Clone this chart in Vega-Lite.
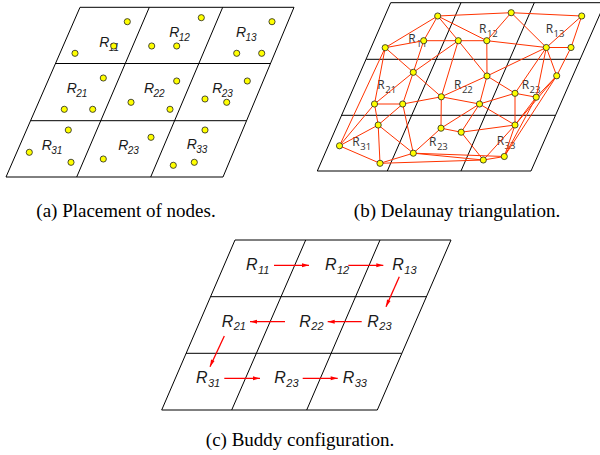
{
  "$schema": "https://vega.github.io/schema/vega-lite/v6.json",
  "width": 600,
  "height": 455,
  "autosize": {"type": "none"},
  "padding": 0,
  "background": "white",
  "config": {"view": {"stroke": null}},
  "datasets": {
    "grid": [
      {"x": 80, "y": 7.3, "x2": 294, "y2": 7.3},
      {"x": 6, "y": 177, "x2": 223, "y2": 177},
      {"x": 55.3, "y": 63.5, "x2": 270.3, "y2": 63.5},
      {"x": 30.8, "y": 120.7, "x2": 246.4, "y2": 120.7},
      {"x": 80, "y": 7.3, "x2": 6, "y2": 177},
      {"x": 149.3, "y": 7.3, "x2": 76.7, "y2": 177},
      {"x": 222.7, "y": 7.3, "x2": 150.7, "y2": 177},
      {"x": 294, "y": 7.3, "x2": 223, "y2": 177},
      {"x": 390.7, "y": 2.7, "x2": 605, "y2": 2.7},
      {"x": 317.3, "y": 171, "x2": 531, "y2": 171},
      {"x": 366.3, "y": 59.3, "x2": 580, "y2": 59.3},
      {"x": 341, "y": 115.3, "x2": 555, "y2": 115.3},
      {"x": 390.7, "y": 2.7, "x2": 317.3, "y2": 171},
      {"x": 461, "y": 2.7, "x2": 387.3, "y2": 171},
      {"x": 534.3, "y": 2.7, "x2": 461, "y2": 171},
      {"x": 605, "y": 2.7, "x2": 531, "y2": 171},
      {"x": 235, "y": 240, "x2": 451, "y2": 240},
      {"x": 161.7, "y": 410, "x2": 377.3, "y2": 410},
      {"x": 210.5, "y": 296.7, "x2": 426.7, "y2": 296.7},
      {"x": 186, "y": 353.3, "x2": 401.7, "y2": 353.3},
      {"x": 235, "y": 240, "x2": 161.7, "y2": 410},
      {"x": 305.7, "y": 240, "x2": 231.7, "y2": 410},
      {"x": 380, "y": 240, "x2": 306.7, "y2": 410},
      {"x": 451, "y": 240, "x2": 377.3, "y2": 410}
    ],
    "anodes": [
      {"x": 127.3, "y": 21.7}, {"x": 75, "y": 53.3}, {"x": 113.7, "y": 46},
      {"x": 201.3, "y": 17.7}, {"x": 151.7, "y": 46}, {"x": 176.7, "y": 46},
      {"x": 272, "y": 21.7}, {"x": 236.7, "y": 53.3}, {"x": 261.7, "y": 53.3},
      {"x": 103.3, "y": 78}, {"x": 64.3, "y": 109.3}, {"x": 92.7, "y": 109.3},
      {"x": 176.7, "y": 81}, {"x": 131, "y": 102.3}, {"x": 170, "y": 109.3},
      {"x": 247.3, "y": 81}, {"x": 205, "y": 99}, {"x": 226.7, "y": 102.3},
      {"x": 68.3, "y": 130}, {"x": 29.3, "y": 152.3}, {"x": 71, "y": 162.3},
      {"x": 151, "y": 137.3}, {"x": 103.3, "y": 159},
      {"x": 205, "y": 130}, {"x": 173.3, "y": 165.3}, {"x": 194.3, "y": 162.3}
    ],
    "bnodes": [
      {"id": "A", "x": 437.7, "y": 16}, {"id": "B", "x": 511.2, "y": 12.7},
      {"id": "C", "x": 581.7, "y": 16}, {"id": "D", "x": 385.2, "y": 47.7},
      {"id": "E", "x": 423.7, "y": 40.7}, {"id": "F", "x": 458.3, "y": 40.7},
      {"id": "G", "x": 486.8, "y": 40.7}, {"id": "H", "x": 546.3, "y": 47.5},
      {"id": "I", "x": 571, "y": 47.5}, {"id": "J", "x": 413.3, "y": 72.3},
      {"id": "K", "x": 487, "y": 76}, {"id": "L", "x": 556.7, "y": 75.8},
      {"id": "M", "x": 515, "y": 93.3}, {"id": "N", "x": 536.2, "y": 97.2},
      {"id": "O", "x": 374.5, "y": 104}, {"id": "P", "x": 402.7, "y": 104},
      {"id": "Q", "x": 441.3, "y": 96.8}, {"id": "R", "x": 479.5, "y": 104},
      {"id": "S", "x": 378.2, "y": 125}, {"id": "T", "x": 441, "y": 128.2},
      {"id": "U", "x": 461.2, "y": 132.2}, {"id": "V", "x": 515, "y": 125},
      {"id": "W", "x": 339.5, "y": 145.8}, {"id": "X", "x": 413.3, "y": 153.2},
      {"id": "Y", "x": 504.3, "y": 156.5}, {"id": "Z", "x": 483.3, "y": 160},
      {"id": "AA", "x": 380, "y": 163.3}
    ],
    "edges": [
      {"a": "A", "b": "B"}, {"a": "B", "b": "C"}, {"a": "A", "b": "D"}, {"a": "A", "b": "E"},
      {"a": "A", "b": "F"}, {"a": "A", "b": "G"}, {"a": "B", "b": "G"}, {"a": "B", "b": "H"},
      {"a": "C", "b": "H"}, {"a": "C", "b": "I"}, {"a": "D", "b": "E"}, {"a": "E", "b": "F"},
      {"a": "F", "b": "G"}, {"a": "G", "b": "H"}, {"a": "H", "b": "I"}, {"a": "D", "b": "J"},
      {"a": "E", "b": "J"}, {"a": "F", "b": "J"}, {"a": "F", "b": "Q"}, {"a": "F", "b": "K"},
      {"a": "G", "b": "K"}, {"a": "H", "b": "K"}, {"a": "H", "b": "M"}, {"a": "H", "b": "N"},
      {"a": "H", "b": "L"}, {"a": "I", "b": "L"}, {"a": "D", "b": "O"}, {"a": "D", "b": "W"},
      {"a": "J", "b": "O"}, {"a": "J", "b": "P"}, {"a": "J", "b": "Q"}, {"a": "K", "b": "Q"},
      {"a": "K", "b": "R"}, {"a": "K", "b": "M"}, {"a": "M", "b": "N"}, {"a": "L", "b": "N"},
      {"a": "O", "b": "P"}, {"a": "P", "b": "Q"}, {"a": "Q", "b": "R"}, {"a": "R", "b": "M"},
      {"a": "O", "b": "S"}, {"a": "O", "b": "W"}, {"a": "S", "b": "W"}, {"a": "S", "b": "P"},
      {"a": "P", "b": "X"}, {"a": "S", "b": "X"}, {"a": "S", "b": "AA"}, {"a": "W", "b": "AA"},
      {"a": "AA", "b": "X"}, {"a": "Q", "b": "T"}, {"a": "T", "b": "R"}, {"a": "T", "b": "U"},
      {"a": "T", "b": "X"}, {"a": "R", "b": "U"}, {"a": "R", "b": "V"}, {"a": "M", "b": "V"},
      {"a": "U", "b": "V"}, {"a": "U", "b": "Z"}, {"a": "N", "b": "V"}, {"a": "N", "b": "Y"},
      {"a": "L", "b": "V"}, {"a": "L", "b": "Y"}, {"a": "V", "b": "Y"}, {"a": "V", "b": "Z"},
      {"a": "Y", "b": "Z"}, {"a": "X", "b": "Z"}, {"a": "X", "b": "Y"}, {"a": "AA", "b": "Z"}
    ],
    "labels": [
      {"panel": "a", "x": 99.3, "y": 43.3, "main": "R", "sub": "11"},
      {"panel": "a", "x": 169.3, "y": 33.3, "main": "R", "sub": "12"},
      {"panel": "a", "x": 236, "y": 33.3, "main": "R", "sub": "13"},
      {"panel": "a", "x": 66.7, "y": 89.3, "main": "R", "sub": "21"},
      {"panel": "a", "x": 144, "y": 89.3, "main": "R", "sub": "22"},
      {"panel": "a", "x": 212.3, "y": 89, "main": "R", "sub": "23"},
      {"panel": "a", "x": 41.7, "y": 145.7, "main": "R", "sub": "31"},
      {"panel": "a", "x": 118.3, "y": 145.7, "main": "R", "sub": "23"},
      {"panel": "a", "x": 186.7, "y": 145, "main": "R", "sub": "33"},
      {"panel": "b", "x": 408.3, "y": 39, "main": "R", "sub": "11"},
      {"panel": "b", "x": 479, "y": 29.2, "main": "R", "sub": "12"},
      {"panel": "b", "x": 545.7, "y": 29.2, "main": "R", "sub": "13"},
      {"panel": "b", "x": 377.3, "y": 85, "main": "R", "sub": "21"},
      {"panel": "b", "x": 454, "y": 85, "main": "R", "sub": "22"},
      {"panel": "b", "x": 521.7, "y": 85, "main": "R", "sub": "23"},
      {"panel": "b", "x": 352.3, "y": 141.7, "main": "R", "sub": "31"},
      {"panel": "b", "x": 429, "y": 141.7, "main": "R", "sub": "23"},
      {"panel": "b", "x": 496.7, "y": 141, "main": "R", "sub": "33"},
      {"panel": "c", "x": 246, "y": 265.3, "main": "R", "sub": "11"},
      {"panel": "c", "x": 325, "y": 265.3, "main": "R", "sub": "12"},
      {"panel": "c", "x": 392.3, "y": 265.3, "main": "R", "sub": "13"},
      {"panel": "c", "x": 221.7, "y": 321.7, "main": "R", "sub": "21"},
      {"panel": "c", "x": 299.3, "y": 321.7, "main": "R", "sub": "22"},
      {"panel": "c", "x": 367.3, "y": 321.7, "main": "R", "sub": "23"},
      {"panel": "c", "x": 196, "y": 378.3, "main": "R", "sub": "31"},
      {"panel": "c", "x": 274.3, "y": 378.3, "main": "R", "sub": "23"},
      {"panel": "c", "x": 342.7, "y": 378.3, "main": "R", "sub": "33"}
    ],
    "arrows": [
      {"x": 274, "y": 265.3, "x2": 309, "y2": 265.3, "dir": "right"},
      {"x": 348.3, "y": 265.3, "x2": 383.3, "y2": 265.3, "dir": "right"},
      {"x": 399.3, "y": 276.7, "x2": 386, "y2": 306.7, "dir": "downleft"},
      {"x": 361.7, "y": 321.7, "x2": 327.7, "y2": 321.7, "dir": "left"},
      {"x": 285, "y": 321.7, "x2": 250, "y2": 321.7, "dir": "left"},
      {"x": 224.3, "y": 336, "x2": 210, "y2": 366.7, "dir": "downleft"},
      {"x": 224.3, "y": 378.3, "x2": 260, "y2": 378.3, "dir": "right"},
      {"x": 302.7, "y": 378.3, "x2": 337.7, "y2": 378.3, "dir": "right"}
    ],
    "captions": [
      {"x": 126, "y": 211, "text": "(a) Placement of nodes."},
      {"x": 457, "y": 211, "text": "(b) Delaunay triangulation."},
      {"x": 300, "y": 440, "text": "(c) Buddy configuration."}
    ]
  },
  "encoding": {
    "x": {"field": "x", "type": "quantitative", "scale": {"domain": [0, 600], "nice": false, "zero": false}, "axis": null},
    "y": {"field": "y", "type": "quantitative", "scale": {"domain": [0, 455], "reverse": true, "nice": false, "zero": false}, "axis": null}
  },
  "layer": [
    {
      "data": {"name": "grid"},
      "mark": {"type": "rule", "color": "#000000", "strokeWidth": 1, "clip": true},
      "encoding": {"x2": {"field": "x2"}, "y2": {"field": "y2"}}
    },
    {
      "data": {"name": "labels"},
      "transform": [{"filter": "datum.panel == 'a'"}],
      "mark": {"type": "text", "font": "Liberation Sans", "fontStyle": "italic", "fontSize": 14, "align": "left", "baseline": "middle", "color": "#1a1a1a"},
      "encoding": {"text": {"field": "main"}}
    },
    {
      "data": {"name": "labels"},
      "transform": [{"filter": "datum.panel == 'a'"}],
      "mark": {"type": "text", "font": "Liberation Sans", "fontStyle": "italic", "fontSize": 10, "align": "left", "baseline": "middle", "dx": 9.5, "dy": 5, "color": "#1a1a1a"},
      "encoding": {"text": {"field": "sub"}}
    },
    {
      "data": {"name": "labels"},
      "transform": [{"filter": "datum.panel == 'c'"}],
      "mark": {"type": "text", "font": "Liberation Sans", "fontStyle": "italic", "fontSize": 16, "align": "left", "baseline": "middle", "color": "#1a1a1a"},
      "encoding": {"text": {"field": "main"}}
    },
    {
      "data": {"name": "labels"},
      "transform": [{"filter": "datum.panel == 'c'"}],
      "mark": {"type": "text", "font": "Liberation Sans", "fontStyle": "italic", "fontSize": 11, "align": "left", "baseline": "middle", "dx": 12, "dy": 5.5, "color": "#1a1a1a"},
      "encoding": {"text": {"field": "sub"}}
    },
    {
      "data": {"name": "labels"},
      "transform": [{"filter": "datum.panel == 'b'"}],
      "mark": {"type": "text", "font": "Open Sans", "fontSize": 12, "align": "left", "baseline": "middle", "color": "#333333"},
      "encoding": {"text": {"field": "main"}}
    },
    {
      "data": {"name": "labels"},
      "transform": [{"filter": "datum.panel == 'b'"}],
      "mark": {"type": "text", "font": "Open Sans", "fontSize": 9.5, "align": "left", "baseline": "middle", "dx": 7.9, "dy": 5, "color": "#333333"},
      "encoding": {"text": {"field": "sub"}}
    },
    {
      "data": {"name": "edges"},
      "transform": [
        {"lookup": "a", "from": {"data": {"name": "bnodes"}, "key": "id", "fields": ["x", "y"]}, "as": ["x", "y"]},
        {"lookup": "b", "from": {"data": {"name": "bnodes"}, "key": "id", "fields": ["x", "y"]}, "as": ["x2", "y2"]}
      ],
      "mark": {"type": "rule", "color": "#ff3300", "strokeWidth": 1},
      "encoding": {"x2": {"field": "x2"}, "y2": {"field": "y2"}}
    },
    {
      "data": {"name": "arrows"},
      "mark": {"type": "rule", "color": "#ff0000", "strokeWidth": 1.3},
      "encoding": {"x2": {"field": "x2"}, "y2": {"field": "y2"}}
    },
    {
      "data": {"name": "arrows"},
      "transform": [{"filter": "datum.dir == 'right'"}],
      "mark": {"type": "point", "shape": "M-1,-0.55L1,0L-1,0.55Z", "size": 49, "filled": true, "color": "#ff0000", "opacity": 1, "angle": 0, "xOffset": -3.5},
      "encoding": {"x": {"field": "x2", "type": "quantitative"}, "y": {"field": "y2", "type": "quantitative"}}
    },
    {
      "data": {"name": "arrows"},
      "transform": [{"filter": "datum.dir == 'left'"}],
      "mark": {"type": "point", "shape": "M-1,-0.55L1,0L-1,0.55Z", "size": 49, "filled": true, "color": "#ff0000", "opacity": 1, "angle": 180, "xOffset": 3.5},
      "encoding": {"x": {"field": "x2", "type": "quantitative"}, "y": {"field": "y2", "type": "quantitative"}}
    },
    {
      "data": {"name": "arrows"},
      "transform": [{"filter": "datum.dir == 'downleft'"}],
      "mark": {"type": "point", "shape": "M-1,-0.55L1,0L-1,0.55Z", "size": 49, "filled": true, "color": "#ff0000", "opacity": 1, "angle": 114, "xOffset": 1.4, "yOffset": -3.2},
      "encoding": {"x": {"field": "x2", "type": "quantitative"}, "y": {"field": "y2", "type": "quantitative"}}
    },
    {
      "data": {"name": "anodes"},
      "mark": {"type": "point", "shape": "circle", "size": 38, "filled": true, "fill": "#ffff00", "stroke": "#222222", "strokeWidth": 0.8, "opacity": 1}
    },
    {
      "data": {"name": "bnodes"},
      "mark": {"type": "point", "shape": "circle", "size": 38, "filled": true, "fill": "#ffff00", "stroke": "#222222", "strokeWidth": 0.8, "opacity": 1}
    },
    {
      "data": {"name": "captions"},
      "mark": {"type": "text", "font": "Liberation Serif", "fontSize": 19, "align": "center", "baseline": "middle", "color": "#000000"},
      "encoding": {"text": {"field": "text"}}
    }
  ]
}
